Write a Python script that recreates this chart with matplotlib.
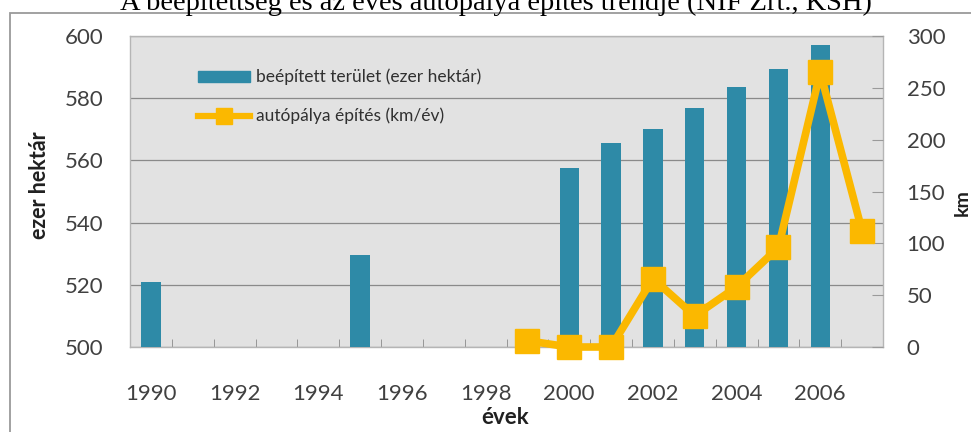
import matplotlib
matplotlib.use("Agg")
import matplotlib.pyplot as plt
import numpy as np
from matplotlib.patches import Rectangle
from matplotlib.lines import Line2D

years = list(range(1990, 2008))
area = [521, np.nan, np.nan, np.nan, np.nan, 529.5, np.nan, np.nan, np.nan, np.nan,
        557.5, 565.5, 570, 577, 583.5, 589.5, 597, np.nan]
motorway = [np.nan] * 9 + [6, 0, 0, 66, 30, 58, 96, 265, 112]
xtick_labels = ["1990", "1992", "1994", "1996", "1998", "2000", "2002", "2004", "2006"]
left_ticks = [500, 520, 540, 560, 580, 600]
right_ticks = [0, 50, 100, 150, 200, 250, 300]

title = "A beépítettség és az éves autópálya építés trendje (NIF Zrt., KSH)"
bar_label = "beépített terület (ezer hektár)"
line_label = "autópálya építés (km/év)"

FONT = ["Lato", "DejaVu Sans"]
plt.rcParams['font.family'] = FONT

BAR_C = "#2e8aa7"
LINE_C = "#fbb800"
TICK_C = "#404040"

W, H = 971, 432
fig = plt.figure(figsize=(W / 100, H / 100), dpi=100)

def fx(px):
    return px / W

def fy(py):
    return 1 - py / H

# outer frame (left and top edges visible)
fig.patches.append(Rectangle((fx(10), fy(460)), fx(990) - fx(10), fy(13) - fy(460),
                             transform=fig.transFigure, fill=False,
                             edgecolor="#9a9a9a", linewidth=1.3, zorder=0))
fig.text(fx(496), fy(10), title, family=["Liberation Serif"], fontsize=20.5,
         ha="center", va="baseline", color="#000000")

ax = fig.add_axes([fx(130), fy(347), fx(883) - fx(130), fy(36) - fy(347)])
ax.set_facecolor("#e2e2e2")
x = np.arange(len(years))
vals = np.array(area, dtype=float)
mask = ~np.isnan(vals)
ax.bar(x[mask], vals[mask] - 500, bottom=500, width=0.46, color=BAR_C, zorder=3)
ax.set_ylim(500, 600)
ax.set_xlim(-0.5, len(years) - 0.5)
ax.set_yticks(left_ticks)
ax.tick_params(axis="y", length=0, labelsize=16, labelcolor=TICK_C, pad=19)
ax.yaxis.grid(True, color="#8a8a8a", linewidth=0.9, zorder=1)
ax.set_axisbelow(True)

major_pos = [years.index(int(s)) for s in xtick_labels]
ax.set_xticks(major_pos)
ax.set_xticklabels(xtick_labels)
ax.set_xticks(np.arange(-0.5, len(years) + 0.5, 1), minor=True)
ax.tick_params(axis="x", which="major", length=0, labelsize=16, labelcolor=TICK_C, pad=27)
ax.tick_params(axis="x", which="minor", direction="in", length=6, color="#8a8a8a")
for s in ax.spines.values():
    s.set_color("#b5b5b5")
    s.set_linewidth(1.0)

fig.text(fx(40), fy(185), "ezer hektár", fontsize=15.5, fontweight="bold",
         color="#202020", rotation=90, ha="center", va="center")
fig.text(fx(505), fy(418), "évek", fontsize=16, fontweight="bold",
         color="#202020", ha="center", va="center")
fig.text(fx(962), fy(203), "km", fontsize=14, fontweight="bold",
         color="#202020", rotation=90, ha="center", va="center")

ax2 = ax.twinx()
ax2.plot(x, motorway, color=LINE_C, linewidth=5.5, marker="s", markersize=17,
         zorder=5, clip_on=False)
ax2.set_ylim(0, 300)
ax2.set_yticks(right_ticks)
ax2.tick_params(axis="y", direction="in", length=8, color="#9a9a9a",
                labelsize=16, labelcolor=TICK_C, pad=17)
for s in ax2.spines.values():
    s.set_visible(False)

handles = [Rectangle((0, 0), 1, 1, color=BAR_C),
           Line2D([0], [0], color=LINE_C, linewidth=4.5, marker="s", markersize=11)]
ax.legend(handles, [bar_label, line_label], loc="upper left",
          bbox_to_anchor=(0.07, 0.945), frameon=False, fontsize=12.5,
          handlelength=3.0, handleheight=0.6, handletextpad=0.3, labelspacing=1.3,
          labelcolor="#303030")

fig.savefig("out.png", dpi=100)
